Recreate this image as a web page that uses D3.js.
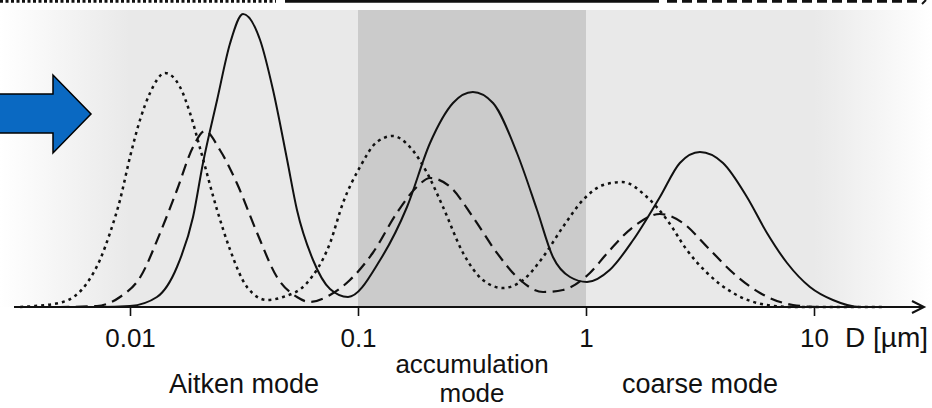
<!DOCTYPE html>
<html>
<head>
<meta charset="utf-8">
<script src="https://cdn.jsdelivr.net/npm/d3@7"></script>
<style>
  html, body { margin: 0; padding: 0; background: #fff; }
  svg { display: block; font-family: "Liberation Sans", Arial, Helvetica, sans-serif; }
</style>
</head>
<body>
<svg id="chart" width="932" height="408"></svg>
<script>
// Particle diameter D [µm] at which each curve is sampled, with its
// number-distribution height (arbitrary units) for three size distributions.
const dottedD = [0.0033, 0.00383, 0.00508, 0.00648, 0.00738, 0.00817, 0.00904, 0.01, 0.01106, 0.01224, 0.01425, 0.01657, 0.01833, 0.0205, 0.0241, 0.0275, 0.0326, 0.0399, 0.0469, 0.0597, 0.0754, 0.0859, 0.102, 0.121, 0.142, 0.169, 0.201, 0.236, 0.289, 0.353, 0.432, 0.530, 0.648, 0.792, 0.970, 1.19, 1.44, 1.85, 2.27, 2.77, 3.40, 4.42, 6.22, 8.09, 20];
const dottedV = [0, 1, 5, 24, 47, 74, 107, 150, 187, 214, 234, 220, 194, 155, 97, 57, 20, 7, 10, 24, 64, 104, 140, 165, 171, 160, 134, 100, 54, 27, 19, 27, 50, 80, 107, 122, 125, 110, 87, 57, 34, 14, 2, 0, 0];

const solidD = [0.0033, 0.00738, 0.01, 0.01313, 0.01607, 0.0189, 0.0209, 0.0241, 0.0275, 0.0313, 0.0372, 0.0424, 0.0489, 0.0540, 0.0635, 0.0754, 0.0904, 0.125, 0.164, 0.207, 0.261, 0.319, 0.391, 0.498, 0.610, 0.716, 0.851, 1.01, 1.27, 1.61, 2.11, 2.58, 3.16, 3.99, 5.08, 6.22, 7.62, 9.60, 12.1, 15.9, 20];
const solidV = [0, 0, 1, 10, 40, 90, 144, 207, 264, 293, 267, 217, 147, 97, 47, 18, 10, 47, 100, 164, 204, 215, 204, 154, 97, 50, 30, 25, 37, 67, 110, 144, 155, 144, 110, 74, 44, 20, 7, 0, 0];

const dashedD = [0.0033, 0.00493, 0.00716, 0.00904, 0.0111, 0.01355, 0.01607, 0.0189, 0.0213, 0.0248, 0.0294, 0.0361, 0.0441, 0.0540, 0.0615, 0.0754, 0.0922, 0.116, 0.148, 0.181, 0.207, 0.254, 0.319, 0.407, 0.514, 0.648, 0.792, 1.04, 1.24, 1.61, 2.11, 2.66, 3.40, 4.42, 5.80, 8.09, 10.6, 20];
const dashedV = [0, 0, 1, 10, 30, 74, 117, 160, 176, 157, 124, 74, 30, 10, 5, 12, 27, 54, 94, 120, 129, 120, 90, 54, 27, 15, 17, 34, 54, 80, 93, 84, 60, 34, 14, 2, 0, 0];

// Axis ticks and mode names
const tickValues = [0.01, 0.1, 1, 10];
const tickLabels = ["0.01", "0.1", "1", "10"];
const axisTitle = "D [\u00b5m]";
const modeNames = [["Aitken mode"], ["accumulation", "mode"], ["coarse mode"]];
const modeRanges = [[0.01, 0.1], [0.1, 1], [1, 10]];

const W = 932, H = 408;
const axisY = 307, plotTop = 10;

const svg = d3.select("#chart");
const x = d3.scaleLog().domain([0.01, 10]).range([130, 814]);
const y = d3.scaleLinear().domain([0, 300]).range([axisY, axisY - 300]);

const defs = svg.append("defs");
const gl = defs.append("linearGradient").attr("id", "fadeLeft").attr("x1", 0).attr("x2", 1).attr("y1", 0).attr("y2", 0);
gl.append("stop").attr("offset", 0).attr("stop-color", "#ffffff");
gl.append("stop").attr("offset", 1).attr("stop-color", "#e9e9e9");
const gr = defs.append("linearGradient").attr("id", "fadeRight").attr("x1", 0).attr("x2", 1).attr("y1", 0).attr("y2", 0);
gr.append("stop").attr("offset", 0).attr("stop-color", "#e9e9e9");
gr.append("stop").attr("offset", 1).attr("stop-color", "#ffffff");

// Shaded background: faded ends, light gray field, darker accumulation band
const bg = svg.append("g");
bg.append("rect").attr("x", 0).attr("y", plotTop).attr("width", x(0.01)).attr("height", axisY - plotTop).attr("fill", "url(#fadeLeft)");
bg.append("rect").attr("x", x(0.01)).attr("y", plotTop).attr("width", x(10) - x(0.01)).attr("height", axisY - plotTop).attr("fill", "#e9e9e9");
bg.append("rect").attr("x", x(10)).attr("y", plotTop).attr("width", W - x(10)).attr("height", axisY - plotTop).attr("fill", "url(#fadeRight)");
bg.append("rect").attr("x", x(0.1)).attr("y", plotTop).attr("width", x(1) - x(0.1)).attr("height", axisY - plotTop).attr("fill", "#cbcbcb");

// Line-style key along the top edge
const key = svg.append("g").attr("stroke", "#111").attr("stroke-width", 3.5);
key.append("line").attr("x1", 0).attr("x2", 276).attr("y1", 1).attr("y2", 1).attr("stroke-dasharray", "3,2.5");
key.append("line").attr("x1", 285).attr("x2", 659).attr("y1", 1).attr("y2", 1);
key.append("line").attr("x1", 667).attr("x2", 921).attr("y1", 1).attr("y2", 1).attr("stroke-dasharray", "10,5");
key.append("line").attr("x1", 922).attr("x2", 926).attr("y1", 4).attr("y2", 0).attr("stroke-width", 2);

// Distribution curves
const line = d3.line()
  .x(d => x(d[0]))
  .y(d => y(d[1]))
  .curve(d3.curveMonotoneX);

const series = [
  { d: dottedD, v: dottedV, dash: "3,4", w: 2.5 },
  { d: dashedD, v: dashedV, dash: "12,6.5", w: 2.2 },
  { d: solidD, v: solidV, dash: null, w: 2 }
];
svg.append("g").selectAll("path")
  .data(series)
  .join("path")
  .attr("d", s => line(d3.zip(s.d, s.v)))
  .attr("fill", "none")
  .attr("stroke", "#111")
  .attr("stroke-width", s => s.w)
  .attr("stroke-dasharray", s => s.dash)
  .attr("stroke-linejoin", "round");

// Horizontal axis with arrowhead
const axisG = svg.append("g").attr("transform", `translate(0,${axisY})`);
axisG.call(d3.axisBottom(x)
  .tickValues(tickValues)
  .tickFormat((d, i) => tickLabels[i])
  .tickSize(9)
  .tickPadding(13));
axisG.select(".domain").remove();
axisG.selectAll(".tick line").attr("stroke", "#111").attr("stroke-width", 1.6);
axisG.selectAll(".tick text")
  .attr("fill", "#111")
  .style("font-size", "26px")
  .style("font-family", "'Liberation Sans', Arial, sans-serif");

svg.append("line")
  .attr("x1", 14).attr("x2", 923).attr("y1", axisY).attr("y2", axisY)
  .attr("stroke", "#111").attr("stroke-width", 2);
svg.append("path")
  .attr("d", `M912,${axisY - 6}L924,${axisY}L912,${axisY + 6}`)
  .attr("fill", "none").attr("stroke", "#111").attr("stroke-width", 2)
  .attr("stroke-linejoin", "miter");

svg.append("text")
  .attr("x", 845).attr("y", axisY + 40)
  .attr("fill", "#111")
  .style("font-size", "28px")
  .text(axisTitle);

// Mode names centred on each decade band, one text element per line
const modeG = svg.append("g").attr("fill", "#111").attr("text-anchor", "middle");
modeNames.forEach((lines, i) => {
  const cx = x(Math.sqrt(modeRanges[i][0] * modeRanges[i][1]));
  const twoLine = lines.length > 1;
  const y0 = twoLine ? 373 : 393;
  lines.forEach((s, j) => {
    modeG.append("text")
      .attr("x", cx).attr("y", y0 + j * 29)
      .style("font-size", twoLine ? "26px" : "27px")
      .text(s);
  });
});

// Blue pointer arrow at the left edge
svg.append("path")
  .attr("d", "M-2,94L53,94L53,75L91,114L53,153L53,133L-2,133Z")
  .attr("fill", "#0a69c2")
  .attr("stroke", "#000")
  .attr("stroke-width", 1.5)
  .attr("stroke-linejoin", "miter");
</script>
</body>
</html>
